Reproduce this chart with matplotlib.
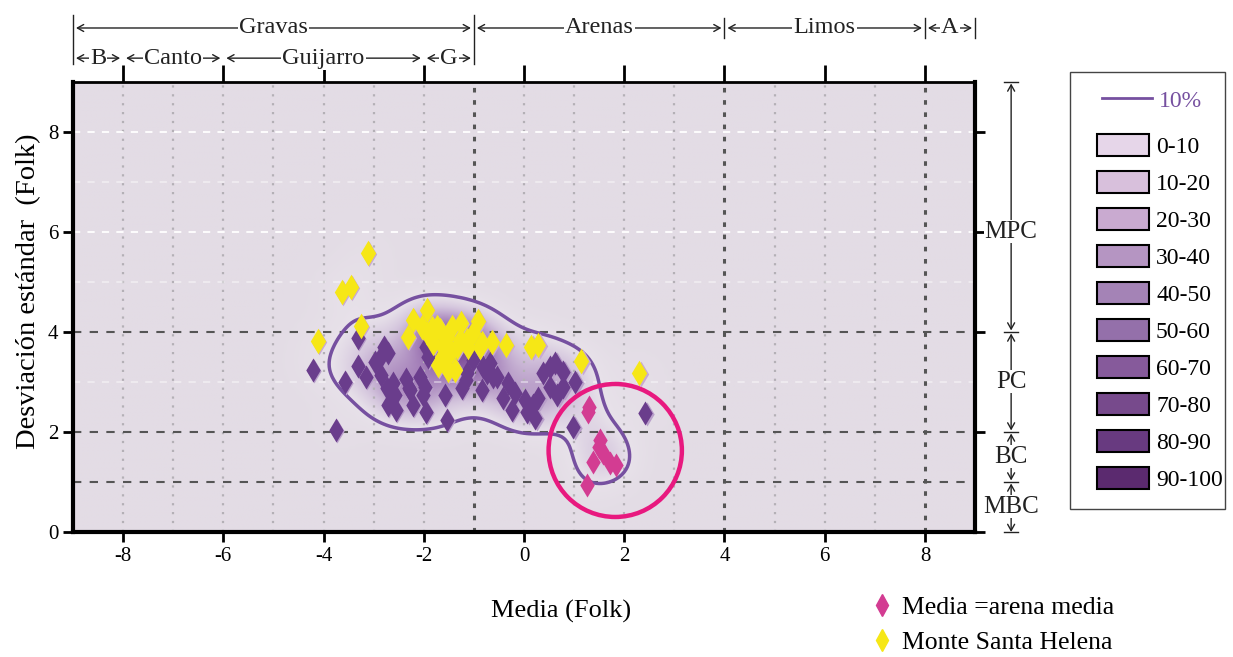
import numpy as np
import matplotlib
matplotlib.use("Agg")
import matplotlib.pyplot as plt
from matplotlib.colors import LinearSegmentedColormap
from matplotlib.patches import Patch, Circle, Rectangle
from matplotlib.lines import Line2D
import matplotlib.transforms as mtransforms

plt.rcParams['font.family'] = ['Liberation Serif', 'DejaVu Serif']
plt.rcParams['axes.unicode_minus'] = False
fontsize = 15
matplotlib.rc('xtick', labelsize=fontsize)
matplotlib.rc('ytick', labelsize=fontsize)

# ---- data (media, desviacion estandar) ----
purple_x = [-4.22, -3.76, -3.32, -3.32, -3.16, -2.86, -2.80, -2.72, -2.88, -2.98,
            -2.74, -2.62, -2.58, -2.72, -2.56, -2.36, -2.30, -2.22, -3.58, -2.08,
            -1.98, -1.96, -1.96, -1.92, -1.58, -1.54, -1.24, -1.14, -1.16, -0.84,
            -0.82, -0.68, -0.62, -0.74, -0.42, -0.32, -0.24, -0.18, 0.02, 0.18,
            0.06, 0.22, 0.28, 0.38, 0.52, 0.62, 0.78, 0.52, 0.66, 0.78,
            1.02, 0.98, 2.42, -2.02, -2.28, -1.02, -0.54]
purple_y = [3.24, 2.04, 3.88, 3.32, 3.10, 3.14, 3.70, 3.58, 3.48, 3.40,
            2.88, 2.98, 2.74, 2.54, 2.44, 3.06, 2.88, 2.54, 3.00, 3.10,
            2.90, 2.40, 3.70, 3.50, 2.74, 2.24, 2.88, 3.18, 3.04, 2.84,
            3.30, 3.38, 3.10, 3.18, 2.68, 2.98, 2.44, 2.78, 2.64, 2.54,
            2.40, 2.28, 2.68, 3.18, 3.30, 3.38, 3.20, 2.90, 2.74, 2.90,
            3.00, 2.10, 2.38, 2.74, 2.84, 3.44, 3.10]

helena_x = [-3.12, -3.64, -3.46, -4.12, -3.26, 1.14, 2.30, 0.14, 0.28, -1.94,
            -2.22, -2.32, -2.04, -1.84, -1.68, -1.54, -1.44, -1.26, -0.92, -1.02,
            -1.14, -0.84, -0.64, -0.36, -1.72, -1.52, -1.38, -1.62, -1.48, -1.34,
            -1.82, -1.94, -1.12, -0.88, -1.48, -1.64, -1.28, -1.74]
helena_y = [5.58, 4.80, 4.90, 3.82, 4.12, 3.42, 3.18, 3.70, 3.74, 4.44,
            4.24, 3.90, 4.10, 4.08, 4.04, 3.90, 4.10, 4.18, 4.22, 3.98,
            3.84, 3.78, 3.80, 3.74, 3.34, 3.24, 3.24, 3.70, 3.64, 3.70,
            3.78, 3.98, 3.70, 3.70, 3.58, 3.50, 3.84, 4.10]

arena_x = [1.28, 1.30, 1.52, 1.50, 1.58, 1.38, 1.72, 1.84, 1.26]
arena_y = [2.40, 2.50, 1.84, 1.70, 1.58, 1.40, 1.38, 1.34, 0.94]

level_labels = ['0-10', '10-20', '20-30', '30-40', '40-50',
                '50-60', '60-70', '70-80', '80-90', '90-100']
level_colors = ['#e6d6e9', '#d8c0dc', '#c9aad0', '#b595c2', '#a483b6',
                '#9470aa', '#865a9b', '#774a8c', '#683a80', '#5b2a6f']

top_row1 = [(-9, -1, 'Gravas'), (-1, 4, 'Arenas'), (4, 8, 'Limos'), (8, 9, 'A')]
top_row2 = [(-9, -8, 'B'), (-8, -6, 'Canto'), (-6, -2, 'Guijarro'), (-2, -1, 'G')]
right_marks = [(9, 4, 6, 'MPC'), (4, 2, 3, 'PC'), (2, 1, 1.5, 'BC'), (1, 0, 0.5, 'MBC')]

bg = '#e3dce5'

fig = plt.figure(figsize=(12.33, 6.57), dpi=100)
ax = fig.add_axes([0.0592, 0.1903, 0.7316, 0.6849])
ax.set_xlim(-9, 9)
ax.set_ylim(0, 9)
ax.set_facecolor(bg)

# kernel density of all samples
all_x = np.array(purple_x + helena_x + arena_x)
all_y = np.array(purple_y + helena_y + arena_y)
gx = np.linspace(-9, 9, 361)
gy = np.linspace(0, 9, 181)
GX, GY = np.meshgrid(gx, gy)
hx, hy = 0.45, 0.4
dens = np.zeros_like(GX)
for xi, yi in zip(all_x, all_y):
    dens += np.exp(-((GX - xi) ** 2 / (2 * hx ** 2) + (GY - yi) ** 2 / (2 * hy ** 2)))
dens /= dens.max()

cmap = LinearSegmentedColormap.from_list(
    'shade', [(0, bg), (0.16, '#e8e2ea'), (0.35, '#d4c5dd'), (0.65, '#a885bc'), (1, '#7a4896')])
ax.imshow(dens, extent=(-9, 9, 0, 9), origin='lower', cmap=cmap, vmin=0, vmax=1,
          aspect='auto', interpolation='bilinear', zorder=0)
ax.contour(GX, GY, dens, levels=[0.16], colors='#7650a0', linewidths=2.5, zorder=3)

# grid
for v in range(-9, 10):
    if v in (-1, 4, 8):
        ax.axvline(v, color='#555555', lw=2.2, ls=(0, (1.5, 2.5)), zorder=2)
    else:
        ax.axvline(v, color='#b4b0b6', lw=1.6, ls=(0, (1, 3)), zorder=1)
for h in (1, 2, 4):
    ax.axhline(h, color='#555555', lw=1.5, ls=(0, (4, 4)), zorder=2)
for h in (3, 5, 6, 7, 8):
    ax.axhline(h, color='white', lw=1.3, ls=(0, (4, 4)), alpha=1.0 if h in (6, 8) else 0.45, zorder=1)

# points with a soft offset halo
halo = mtransforms.offset_copy(ax.transData, fig=fig, x=1.5, y=-1.5, units='dots')
ax.scatter(purple_x, purple_y, marker='d', s=150, color='#b99fca', lw=0, transform=halo, zorder=4)
ax.scatter(purple_x, purple_y, marker='d', s=150, color='#6a3d8c', lw=0, zorder=5)
ax.scatter(helena_x, helena_y, marker='d', s=170, color='#c8a9d4', lw=0, transform=halo, zorder=4)
ax.scatter(helena_x, helena_y, marker='d', s=170, color='#f6e716', lw=0, zorder=6)
ax.scatter(arena_x, arena_y, marker='d', s=150, color='#d33c92', lw=0, zorder=6)

ax.add_patch(Circle((1.82, 1.63), 1.33, fill=False, ec='#e8197f', lw=3.2, zorder=7))

# axes styling
ax.set_xticks(range(-8, 9, 2))
ax.set_yticks(range(0, 9, 2))
ax.tick_params(axis='both', direction='out', length=7, width=2, color='black',
               top=True, right=True, labeltop=False, labelright=False)
for t in ax.xaxis.get_major_ticks():
    t.tick2line.set_markersize(12)
for s in ('left', 'right', 'bottom'):
    ax.spines[s].set_linewidth(3)
ax.spines['top'].set_linewidth(2)
ax.set_xlabel('Media (Folk)', fontsize=19)
ax.xaxis.set_label_coords(0.541, -0.15)
ax.set_ylabel('Desviación estándar  (Folk)', fontsize=20.5)
ax.yaxis.set_label_coords(-0.035, 0.535)

# top annotation rows
tb = mtransforms.blended_transform_factory(ax.transData, ax.transAxes)
arw = dict(arrowstyle='<->, head_length=0.45, head_width=0.25', lw=1, color='#222222',
           shrinkA=0, shrinkB=0)
def span(x0, x1, yy, label, trans, gap=0.06):
    ax.annotate('', xy=(x0 + gap, yy), xytext=(x1 - gap, yy), xycoords=trans,
                textcoords=trans, arrowprops=arw, annotation_clip=False)
    ax.text((x0 + x1) / 2, yy, label, transform=trans, ha='center', va='center',
            fontsize=17.5, color='#222222', clip_on=False,
            bbox=dict(fc='white', ec='none', pad=0.8))

for x0, x1, lab in top_row1:
    span(x0, x1, 1.12, lab, tb)
for x0, x1, lab in top_row2:
    span(x0, x1, 1.053, lab, tb)
for xv, y0, y1 in [(-9, 1.04, 1.148), (-1, 1.04, 1.148), (4, 1.097, 1.143), (8, 1.097, 1.143), (9, 1.097, 1.143)]:
    ax.plot([xv, xv], [y0, y1], transform=tb, color='#222222', lw=1, clip_on=False)

# right annotation column
rb = mtransforms.blended_transform_factory(ax.transAxes, ax.transData)
xr = 1.04
for y0, y1, ym, lab in right_marks:
    ax.annotate('', xy=(xr, y0 - 0.03 if y0 > 0 else y0), xytext=(xr, y1 + 0.03 if y1 > 0 else y1),
                xycoords=rb, textcoords=rb, arrowprops=arw, annotation_clip=False)
    ax.text(xr, ym, lab, transform=rb, ha='center', va='center', fontsize=18,
            color='#222222', clip_on=False, bbox=dict(fc='white', ec='none', pad=0.3))
for yv in (9, 4, 2, 1, 0):
    ax.plot([xr - 0.008, xr + 0.008], [yv, yv], transform=rb, color='#222222', lw=1, clip_on=False)

# density legend: frame plus two frameless legends
fig.patches.append(Rectangle((0.8678, 0.2253), 0.1257, 0.665, transform=fig.transFigure,
                             fill=False, ec='#444444', lw=1))
leg1 = fig.legend([Line2D([], [], color='#7650a0', lw=2)], ['10%'], loc='upper left',
                  bbox_to_anchor=(0.8937, 0.863), borderaxespad=0, borderpad=0,
                  fontsize=17, frameon=False, handlelength=2.1, handletextpad=0.3)
leg1.get_texts()[0].set_color('#7650a0')
leg2 = fig.legend([Patch(fc=c, ec='black', lw=1.5) for c in level_colors], level_labels,
                  loc='upper left', bbox_to_anchor=(0.8897, 0.796), borderaxespad=0,
                  borderpad=0, fontsize=17, frameon=False, handlelength=2.2,
                  handleheight=1.05, labelspacing=0.55, handletextpad=0.3)

# sample legend
h2 = [Line2D([], [], marker='d', ls='none', color='#d33c92', ms=11),
      Line2D([], [], marker='d', ls='none', color='#f6e716', ms=11)]
fig.legend(h2, ['Media =arena media', 'Monte Santa Helena'], loc='upper left',
           bbox_to_anchor=(0.6965, 0.109), borderaxespad=0, fontsize=18.5, frameon=False,
           handlelength=1.0, handletextpad=0.3, labelspacing=0.5)

fig.savefig('out.png', dpi=100)
